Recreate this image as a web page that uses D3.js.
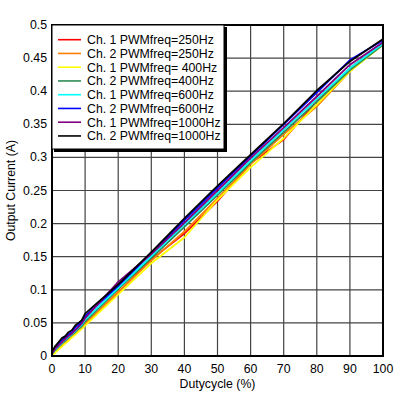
<!DOCTYPE html>
<html>
<head>
<meta charset="utf-8">
<script src="https://cdn.jsdelivr.net/npm/d3@7"></script>
<style>
  body { margin: 0; background: #fff; }
  text { font-family: "Liberation Sans", Arial, sans-serif; }
</style>
</head>
<body>
<svg id="chart"></svg>
<script>
// Duty cycle sample points (%)
const duty = [0, 1, 2, 3, 4, 5, 6, 7, 8, 9, 10, 20, 30, 40, 50, 60, 70, 80, 90, 100];

// Output current (A) per series
const ch1_250 = [0.002, 0.007, 0.011, 0.016, 0.020, 0.025, 0.029, 0.034, 0.038, 0.043, 0.048, 0.096, 0.146, 0.185, 0.234, 0.291, 0.327, 0.385, 0.435, 0.472];
const ch2_250 = [0.002, 0.007, 0.012, 0.016, 0.021, 0.025, 0.030, 0.034, 0.039, 0.044, 0.049, 0.097, 0.144, 0.188, 0.238, 0.290, 0.335, 0.377, 0.430, 0.473];
const ch1_400 = [0.001, 0.005, 0.010, 0.014, 0.019, 0.023, 0.028, 0.032, 0.037, 0.041, 0.046, 0.093, 0.140, 0.179, 0.236, 0.285, 0.329, 0.380, 0.430, 0.470];
const ch2_400 = [0.003, 0.009, 0.014, 0.019, 0.023, 0.028, 0.032, 0.036, 0.041, 0.045, 0.052, 0.101, 0.148, 0.195, 0.243, 0.292, 0.338, 0.384, 0.432, 0.470];
const ch1_600 = [0.004, 0.010, 0.015, 0.020, 0.025, 0.029, 0.033, 0.038, 0.043, 0.047, 0.055, 0.103, 0.151, 0.199, 0.246, 0.295, 0.342, 0.388, 0.435, 0.472];
const ch2_600 = [0.005, 0.013, 0.019, 0.024, 0.028, 0.033, 0.036, 0.043, 0.047, 0.051, 0.060, 0.106, 0.155, 0.205, 0.254, 0.302, 0.350, 0.398, 0.447, 0.477];
const ch1_1000 = [0.004, 0.011, 0.016, 0.021, 0.026, 0.030, 0.034, 0.039, 0.044, 0.049, 0.057, 0.112, 0.154, 0.201, 0.250, 0.299, 0.345, 0.392, 0.440, 0.474];
const ch2_1000 = [0.007, 0.015, 0.021, 0.027, 0.030, 0.036, 0.039, 0.046, 0.050, 0.054, 0.064, 0.108, 0.157, 0.208, 0.257, 0.304, 0.351, 0.401, 0.445, 0.479];

const seriesNames = ["Ch. 1 PWMfreq=250Hz", "Ch. 2 PWMfreq=250Hz", "Ch. 1 PWMfreq= 400Hz", "Ch. 2 PWMfreq=400Hz",
                     "Ch. 1 PWMfreq=600Hz", "Ch. 2 PWMfreq=600Hz", "Ch. 1 PWMfreq=1000Hz", "Ch. 2 PWMfreq=1000Hz"];
const seriesValues = [ch1_250, ch2_250, ch1_400, ch2_400, ch1_600, ch2_600, ch1_1000, ch2_1000];
const seriesColors = ["#ff0000", "#ff7f00", "#ffff00", "#2e8b57", "#00ffff", "#0000ff", "#800080", "#000000"];

const xTicks = [0, 10, 20, 30, 40, 50, 60, 70, 80, 90, 100];
const yTicks = [0, 0.05, 0.1, 0.15, 0.2, 0.25, 0.3, 0.35, 0.4, 0.45, 0.5];

// Plot area
const margin = {top: 25, left: 52},
    width = 331,
    height = 331;

const svg = d3.select("#chart")
    .attr("width", 402)
    .attr("height", 393);

const g = svg.append("g")
    .attr("transform", `translate(${margin.left}, ${margin.top})`);

const x = d3.scaleLinear().domain([0, 100]).range([0, width]);
const y = d3.scaleLinear().domain([0, 0.5]).range([height, 0]);

// Grid
g.selectAll(".vgrid")
    .data(xTicks)
    .enter()
    .append("line")
    .attr("x1", d => x(d)).attr("x2", d => x(d))
    .attr("y1", 0).attr("y2", height)
    .attr("stroke", "#444")
    .attr("stroke-width", 1.2);
g.selectAll(".hgrid")
    .data(yTicks)
    .enter()
    .append("line")
    .attr("x1", 0).attr("x2", width)
    .attr("y1", d => y(d)).attr("y2", d => y(d))
    .attr("stroke", "#444")
    .attr("stroke-width", 1.2);

// Tick labels
g.selectAll(".xlab")
    .data(xTicks)
    .enter()
    .append("text")
    .attr("x", d => x(d))
    .attr("y", height + 17)
    .attr("text-anchor", "middle")
    .attr("font-size", 12.3)
    .text(d => d);
g.selectAll(".ylab")
    .data(yTicks)
    .enter()
    .append("text")
    .attr("x", -5)
    .attr("y", d => y(d) + 4)
    .attr("text-anchor", "end")
    .attr("font-size", 12.3)
    .text(d => d);

// Axis titles
g.append("text")
    .attr("x", width / 2)
    .attr("y", height + 32)
    .attr("text-anchor", "middle")
    .attr("font-size", 12.3)
    .text("Dutycycle (%)");
g.append("text")
    .attr("transform", `translate(${-37}, ${height / 2}) rotate(-90)`)
    .attr("text-anchor", "middle")
    .attr("font-size", 12.3)
    .text("Output Current (A)");

// Lines
const line = d3.line()
    .x((d, i) => x(duty[i]))
    .y(d => y(d));
g.selectAll(".series")
    .data(seriesValues)
    .enter()
    .append("path")
    .attr("d", d => line(d))
    .attr("fill", "none")
    .attr("stroke", (d, i) => seriesColors[i])
    .attr("stroke-width", 1.8)
    .attr("stroke-linejoin", "round");

// Frame
g.append("rect")
    .attr("x", 0).attr("y", 0)
    .attr("width", width).attr("height", height)
    .attr("fill", "none")
    .attr("stroke", "#000")
    .attr("stroke-width", 2);

// Legend
const legend = g.append("g");
legend.append("rect")
    .attr("x", 2).attr("y", 2)
    .attr("width", 173).attr("height", 125)
    .attr("fill", "#000");
legend.append("rect")
    .attr("x", 0).attr("y", 0)
    .attr("width", 172).attr("height", 124)
    .attr("fill", "#fff")
    .attr("stroke", "#000")
    .attr("stroke-width", 1);
const rows = legend.selectAll(".row")
    .data(seriesNames)
    .enter()
    .append("g")
    .attr("transform", (d, i) => `translate(0, ${14.7 + i * 13.75})`);
rows.append("line")
    .attr("x1", 6).attr("x2", 29)
    .attr("stroke", (d, i) => seriesColors[i])
    .attr("stroke-width", 1.6);
rows.append("text")
    .attr("x", 35)
    .attr("y", 4.5)
    .attr("font-size", 12.3)
    .text(d => d);
</script>
</body>
</html>
